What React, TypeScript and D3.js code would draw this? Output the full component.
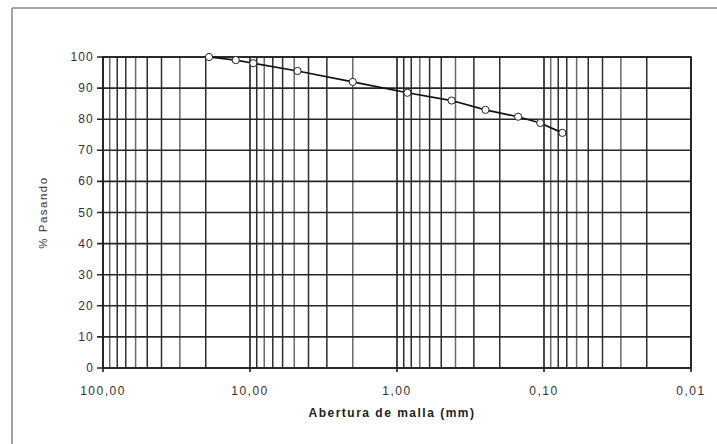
import React from "react";
import * as d3 from "d3";

const sieveSizes = [19, 12.5, 9.5, 4.75, 2, 0.85, 0.425, 0.25, 0.15, 0.106, 0.075];
const passing = [100, 99, 98, 95.5, 92, 88.5, 86, 83, 80.8, 78.8, 75.6];
const xTickValues = [100, 10, 1, 0.1, 0.01];
const xTickLabels = ["100,00", "10,00", "1,00", "0,10", "0,01"];
const yTickValues = [0, 10, 20, 30, 40, 50, 60, 70, 80, 90, 100];

const W = 717;
const H = 444;
const left = 103;
const right = 691;
const top = 57;
const bottom = 368;

export default function App() {
  const x = d3.scaleLog().domain([100, 0.01]).range([left, right]);
  const y = d3.scaleLinear().domain([0, 100]).range([bottom, top]);

  const minor: number[] = [];
  for (let e = -2; e < 2; e++) {
    for (let m = 2; m <= 9; m++) minor.push(m * Math.pow(10, e));
  }

  const pts = sieveSizes.map((s, i) => [x(s), y(passing[i])] as [number, number]);
  const line = d3.line()(pts) || "";

  return (
    <svg
      width={W}
      height={H}
      style={{ position: "absolute", left: 0, top: 0, background: "#fff" }}
      fontFamily="Liberation Sans, Arial, sans-serif"
    >
      <rect x={0} y={0} width={W} height={H} fill="#fff" />
      {/* outer frame */}
      <line x1={12} y1={8} x2={W} y2={8} stroke="#8a8a8a" strokeWidth={1.6} />
      <line x1={12} y1={8} x2={12} y2={H} stroke="#8a8a8a" strokeWidth={1.6} />

      {/* minor vertical grid */}
      {minor.map((v, i) => (
        <line
          key={"mn" + i}
          x1={x(v)}
          x2={x(v)}
          y1={top}
          y2={bottom}
          stroke={i % 3 === 1 ? "#6a6a6a" : "#2f2f2f"}
          strokeWidth={1.5}
        />
      ))}
      {/* major vertical grid */}
      {xTickValues.map((v, i) => (
        <line key={"mj" + i} x1={x(v)} x2={x(v)} y1={top} y2={bottom + 4} stroke="#1e1e1e" strokeWidth={1.6} />
      ))}
      {/* horizontal grid */}
      {yTickValues.map((v, i) => (
        <line key={"h" + i} x1={left - 6} x2={right} y1={y(v)} y2={y(v)} stroke="#262626" strokeWidth={1.6} />
      ))}
      <rect x={left} y={top} width={right - left} height={bottom - top} fill="none" stroke="#1e1e1e" strokeWidth={1.6} />

      {/* y tick labels */}
      {yTickValues.map((v, i) => (
        <text key={"yl" + i} x={left - 9} y={y(v) + 4} textAnchor="end" fontSize={12} letterSpacing={1.2} fill="#333">
          {v}
        </text>
      ))}
      {/* x tick labels */}
      {xTickValues.map((v, i) => (
        <text key={"xl" + i} x={x(v)} y={395} textAnchor="middle" fontSize={12} letterSpacing={1.5} fill="#333">
          {xTickLabels[i]}
        </text>
      ))}

      <text x={392} y={417} textAnchor="middle" fontSize={12} letterSpacing={1.5} fontWeight="bold" fill="#222">
        Abertura de malla (mm)
      </text>
      <text
        transform={`translate(47, ${(top + bottom) / 2}) rotate(-90)`}
        textAnchor="middle"
        fontSize={11.5}
        letterSpacing={1.5}
        fill="#333"
      >
        % Pasando
      </text>

      <path d={line} fill="none" stroke="#111" strokeWidth={1.7} />
      {pts.map((p, i) => (
        <circle key={"p" + i} cx={p[0]} cy={p[1]} r={3.6} fill="#fff" stroke="#222" strokeWidth={1} />
      ))}
    </svg>
  );
}
